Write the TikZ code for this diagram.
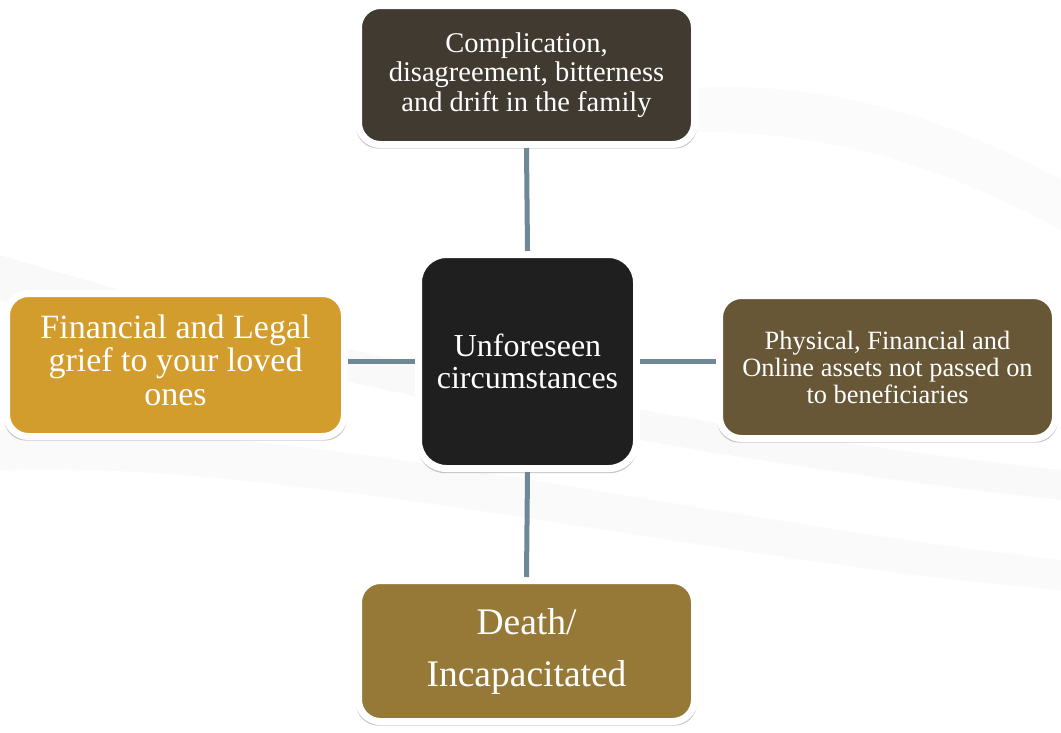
\documentclass[tikz,border=0pt]{standalone}
\usepackage{fontspec}
\setmainfont{Liberation Serif}
\usetikzlibrary{shadows}
\definecolor{ctop}{HTML}{413A31}
\definecolor{ccen}{HTML}{1F1F1F}
\definecolor{cleft}{HTML}{D39D2E}
\definecolor{cright}{HTML}{675737}
\definecolor{cbot}{HTML}{977937}
\definecolor{clink}{HTML}{6E8898}
\definecolor{swoosh}{HTML}{EEEEEE}
\tikzset{
  box/.style={draw=white, line width=7pt, rounded corners=22pt, text=white, align=center,
    inner sep=0pt, drop shadow={shadow xshift=0pt, shadow yshift=-3pt, shadow scale=1.015, fill=black, opacity=0.22}},
  link/.style={draw=clink, line width=5pt}
}
\begin{document}
\begin{tikzpicture}[x=1pt,y=-1pt]
\useasboundingbox (0,0) rectangle (1061,732);
% faint background swooshes
\fill[swoosh, opacity=0.35] (0,255) .. controls (250,330) and (600,420) .. (1061,470) -- (1061,500) .. controls (600,450) and (250,360) .. (0,300) -- cycle;
\fill[swoosh, opacity=0.3] (0,430) .. controls (300,420) and (700,520) .. (1061,560) -- (1061,590) .. controls (700,560) and (300,460) .. (0,470) -- cycle;
\fill[swoosh, opacity=0.25] (600,100) .. controls (800,60) and (950,120) .. (1061,180) -- (1061,230) .. controls (950,170) and (800,110) .. (600,140) -- cycle;
% nodes
\node[box, fill=ctop, minimum width=336pt, minimum height=139pt, font={\fontsize{28.5}{29.5}\selectfont}] (top) at (526.5,75)
  {Complication,\\ disagreement, bitterness\\ and drift in the family};
\node[box, fill=ccen, rounded corners=28pt, minimum width=218pt, minimum height=214pt, font={\fontsize{32}{32}\selectfont}] (cen) at (527.5,361.5)
  {Unforeseen\\ circumstances};
\node[box, fill=cleft, minimum width=338pt, minimum height=143pt, text depth=10pt, font={\fontsize{34}{33.5}\selectfont}] (left) at (175.5,365)
  {Financial and Legal\\ grief to your loved\\ ones};
\node[box, fill=cright, minimum width=336pt, minimum height=143pt, font={\fontsize{26.4}{27}\selectfont}] (right) at (887.5,367)
  {Physical, Financial and\\ Online assets not passed on\\ to beneficiaries};
\node[box, fill=cbot, minimum width=336pt, minimum height=141pt, font={\fontsize{37.5}{52}\selectfont}] (bot) at (526.5,651)
  {Death/\\ Incapacitated};
% links
\draw[link] (top.south) -- (cen.north);
\draw[link] (cen.south) -- (bot.north);
\draw[link] (left.east |- cen.west) -- (cen.west);
\draw[link] (cen.east) -- (right.west |- cen.east);
\end{tikzpicture}
\end{document}
